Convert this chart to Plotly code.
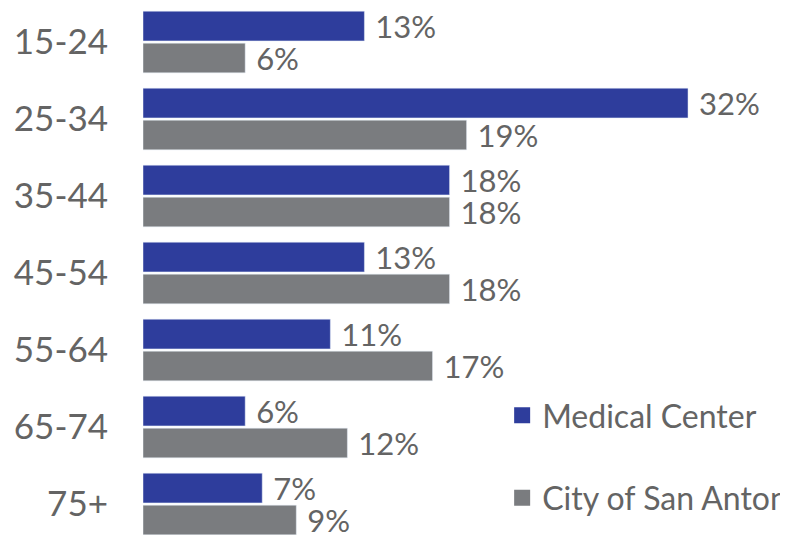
import plotly.graph_objects as go

age_groups = ["15-24", "25-34", "35-44", "45-54", "55-64", "65-74", "75+"]
medical_center = [13, 32, 18, 13, 11, 6, 7]
san_antonio = [6, 19, 18, 18, 17, 12, 9]
series_names = ["Medical Center", "City of San Antonio"]

blue = "#2E3D9C"
grey = "#7A7C7F"
text_grey = "#646464"
font = "Lato"

fig = go.Figure()
for name, vals, col in zip(series_names, [medical_center, san_antonio], [blue, grey]):
    fig.add_trace(go.Bar(
        y=age_groups, x=vals, orientation="h", name=name,
        marker_color=col, showlegend=False,
        text=[f"{v}%" for v in vals], textposition="outside",
        texttemplate=" %{text}", cliponaxis=False, constraintext="none",
        textfont=dict(family=font, size=31, color=text_grey),
    ))

# legend entries with bigger square swatches
for i, (name, col) in enumerate(zip(series_names, [blue, grey])):
    fig.add_trace(go.Scatter(
        x=[None], y=[None], mode="markers", name=name, legendgroup=str(i),
        marker=dict(symbol="square", size=18, color=col),
    ))

fig.update_layout(
    width=788, height=535,
    margin=dict(l=135, r=0, t=0, b=0, pad=0, autoexpand=False),
    paper_bgcolor="white", plot_bgcolor="white",
    barmode="group", bargap=0.17, bargroupgap=0.07,
    font=dict(family=font, color=text_grey),
    legend=dict(
        x=0.55, y=0.29, xanchor="left", yanchor="top",
        font=dict(family=font, size=32, color=text_grey),
        tracegroupgap=38, itemwidth=30, bgcolor="rgba(0,0,0,0)",
    ),
    xaxis=dict(range=[0, 38.34], visible=False),
    yaxis=dict(
        categoryorder="array", categoryarray=age_groups,
        range=[6.506, -0.442], showline=False, showgrid=False, ticks="",
        tickfont=dict(family=font, size=35, color=text_grey),
        ticklabelstandoff=34,
    ),
)

fig.write_html("out.html")
